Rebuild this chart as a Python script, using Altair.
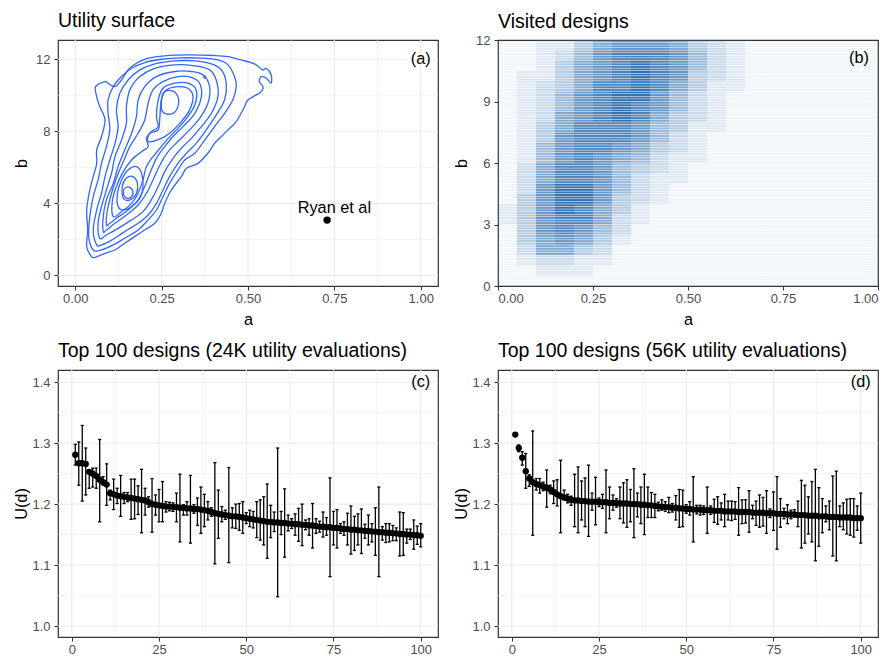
import altair as alt
import pandas as pd

FONT = "Liberation Sans"
BLUE = "#3366FF"

# ---------------- Panel (a): contour lines of the utility surface ----------------
contour_1 = [(0.047,1.04),(0.033,1.59),(0.036,2.52),(0.033,3.63),(0.042,4.74),(0.052,5.48),(0.062,6.22),(0.062,6.96),
             (0.076,7.71),(0.086,8.63),(0.071,9.37),(0.062,9.93),(0.059,10.48),(0.086,10.76),(0.095,10.67),(0.115,10.48),
             (0.134,10.85),(0.153,11.41),(0.177,11.78),(0.211,12.06),(0.259,12.19),(0.326,12.24),(0.403,12.21),(0.442,12.15),
             (0.480,11.96),(0.519,11.74),(0.543,11.41),(0.553,11.50),(0.567,11.13),(0.567,10.67),(0.553,10.95),(0.538,11.04),
             (0.533,10.76),(0.543,10.48),(0.538,10.20),(0.500,9.74),(0.490,9.37),(0.466,8.54),(0.442,8.08),(0.418,7.61),
             (0.403,7.33),(0.384,6.78),(0.355,6.22),(0.322,5.95),(0.307,5.48),(0.278,4.74),(0.259,4.00),(0.249,3.45),
             (0.230,2.89),(0.201,2.52),(0.172,2.15),(0.143,1.78),(0.115,1.41),(0.086,1.22),(0.057,1.00)]
contour_2 = [(0.052,1.41),(0.039,2.15),(0.042,3.26),(0.052,4.37),(0.066,5.30),(0.076,6.22),(0.090,7.15),(0.100,8.08),
             (0.095,9.00),(0.095,9.74),(0.110,10.48),(0.134,11.04),(0.163,11.50),(0.201,11.82),(0.249,12.00),(0.307,12.08),
             (0.365,12.06),(0.413,11.96),(0.442,11.69),(0.461,11.04),(0.466,10.48),(0.456,9.74),(0.432,9.00),(0.403,8.26),
             (0.375,7.52),(0.346,6.78),(0.317,6.41),(0.297,5.85),(0.273,5.11),(0.254,4.37),(0.235,3.63),(0.211,3.08),
             (0.182,2.52),(0.143,2.06),(0.110,1.69),(0.076,1.41)]
contour_3 = [(0.062,1.69),(0.052,2.52),(0.062,3.63),(0.076,4.56),(0.086,5.48),(0.100,6.41),(0.115,7.33),(0.124,8.26),
             (0.119,9.19),(0.129,10.11),(0.153,10.85),(0.187,11.41),(0.230,11.74),(0.288,11.91),(0.346,11.91),(0.394,11.74),
             (0.423,11.41),(0.437,10.67),(0.432,9.74),(0.408,8.91),(0.379,8.08),(0.350,7.33),(0.322,6.78),(0.297,6.22),
             (0.273,5.48),(0.254,4.74),(0.235,4.00),(0.211,3.35),(0.182,2.89),(0.143,2.43),(0.105,1.96),(0.076,1.69)]
contour_4 = [(0.071,2.06),(0.066,2.89),(0.076,3.82),(0.090,4.74),(0.105,5.67),(0.115,6.59),(0.134,7.52),(0.148,8.45),
             (0.148,9.37),(0.158,10.30),(0.187,11.04),(0.230,11.50),(0.288,11.69),(0.346,11.63),(0.389,11.41),(0.408,10.85),
             (0.413,9.93),(0.394,9.00),(0.365,8.26),(0.336,7.61),(0.307,7.06),(0.283,6.50),(0.259,5.76),(0.240,4.93),
             (0.220,4.19),(0.196,3.54),(0.163,3.08),(0.124,2.61),(0.090,2.24)]
contour_5 = [(0.081,2.43),(0.081,3.26),(0.090,4.19),(0.110,5.11),(0.124,6.04),(0.143,6.96),(0.163,7.89),(0.177,8.82),
             (0.182,9.74),(0.201,10.48),(0.235,11.04),(0.288,11.32),(0.336,11.32),(0.370,11.13),(0.389,10.48),(0.384,9.56),
             (0.360,8.72),(0.326,7.98),(0.297,7.43),(0.269,6.87),(0.245,6.13),(0.225,5.30),(0.206,4.56),(0.182,3.91),
             (0.148,3.35),(0.115,2.89),(0.090,2.52)]
contour_6 = [(0.090,2.80),(0.093,3.63),(0.105,4.56),(0.119,5.39),(0.139,6.32),(0.158,7.15),(0.182,7.89),(0.201,8.63),
             (0.211,9.56),(0.225,10.30),(0.254,10.76),(0.297,11.04),(0.336,11.00),(0.360,10.67),(0.365,9.93),(0.346,9.00),
             (0.312,8.26),(0.283,7.71),(0.259,7.15),(0.235,6.50),(0.216,5.67),(0.201,4.93),(0.182,4.19),(0.153,3.63),
             (0.119,3.17),(0.100,2.89)]
contour_7 = [(0.110,3.26),(0.107,4.09),(0.119,4.93),(0.139,5.76),(0.163,6.41),(0.192,6.87),(0.211,7.15),(0.206,7.61),
             (0.220,7.98),(0.240,8.26),(0.235,8.82),(0.240,9.74),(0.254,10.39),(0.288,10.67),(0.326,10.67),(0.350,10.30),
             (0.346,9.46),(0.322,8.72),(0.293,8.08),(0.269,7.61),(0.249,7.15),(0.225,6.59),(0.206,6.04),(0.196,5.30),
             (0.182,4.56),(0.163,4.00),(0.134,3.54)]
contour_8_low = [(0.124,3.82),(0.122,4.56),(0.134,5.30),(0.153,5.85),(0.177,6.04),(0.192,5.67),(0.196,4.93),
                 (0.187,4.28),(0.163,3.82),(0.139,3.63)]
contour_8_up = [(0.211,7.43),(0.216,7.89),(0.240,8.08),(0.245,8.82),(0.249,9.74),(0.264,10.30),(0.297,10.48),
                (0.326,10.39),(0.341,9.93),(0.331,9.19),(0.307,8.54),(0.278,7.98),(0.249,7.61)]
contour_9_low = [(0.139,4.28),(0.136,4.93),(0.148,5.39),(0.167,5.48),(0.180,5.11),(0.177,4.56),(0.158,4.19)]
contour_9_up = [(0.249,9.28),(0.254,10.11),(0.278,10.26),(0.297,9.93),(0.297,9.37),(0.283,9.00),(0.259,9.00)]
contour_10_low = [(0.139,4.56),(0.143,4.83),(0.158,4.89),(0.167,4.65),(0.163,4.37),(0.148,4.28)]
contour_dot = [(0.372,11.00),(0.375,11.06),(0.378,11.00),(0.375,10.95)]

contours = [contour_1, contour_2, contour_3, contour_4, contour_5, contour_6, contour_7,
            contour_8_low, contour_8_up, contour_9_low, contour_9_up, contour_10_low, contour_dot]

ryan_a, ryan_b = [0.729], [3.07]
ryan_label = ["Ryan et al"]
ryan_label_a, ryan_label_b = [0.75], [3.44]

# ---------------- Panel (b): density of visited designs ----------------
# rows from b = 12 (top) down to b = 0, 0.5 wide; columns a = 0 .. 1 in steps of 0.05; level 0-9
visited_rows = [
    "11224677764321111111",
    "11235788875321111111",
    "11246789875321111111",
    "12246789874321111111",
    "12346889864221111111",
    "12357899753211111111",
    "12357898753211111111",
    "12367898643211111111",
    "12468887542211111111",
    "12478887532111111111",
    "12578876432111111111",
    "12578765322111111111",
    "13688754321111111111",
    "13688753221111111111",
    "13799753211111111111",
    "14799743211111111111",
    "24798642111111111111",
    "24788632111111111111",
    "14787531111111111111",
    "14676421111111111111",
    "13664311111111111111",
    "12332211111111111111",
    "11222111111111111111",
    "11111111111111111111",
]

# ---------------- Panels (c) and (d): top 100 designs ----------------
design_idx = list(range(1, 101))

c_mean = [1.281,1.267,1.267,1.266,1.253,1.250,1.246,1.240,1.236,1.232,
          1.218,1.216,1.214,1.213,1.212,1.211,1.210,1.209,1.208,1.207,
          1.206,1.203,1.200,1.199,1.198,1.197,1.196,1.196,1.195,1.195,
          1.194,1.194,1.193,1.193,1.192,1.192,1.191,1.190,1.189,1.187,
          1.185,1.184,1.183,1.182,1.181,1.180,1.180,1.179,1.178,1.177,
          1.176,1.175,1.174,1.173,1.172,1.171,1.171,1.170,1.170,1.169,
          1.169,1.168,1.168,1.167,1.167,1.166,1.166,1.165,1.165,1.164,
          1.163,1.163,1.162,1.162,1.161,1.161,1.160,1.159,1.159,1.158,
          1.158,1.157,1.157,1.156,1.156,1.155,1.155,1.154,1.154,1.153,
          1.153,1.152,1.152,1.151,1.151,1.150,1.150,1.149,1.149,1.148]
c_hi = [1.298,1.302,1.329,1.292,1.256,1.259,1.259,1.306,1.245,1.266,
        1.223,1.241,1.226,1.247,1.219,1.219,1.241,1.241,1.230,1.257,
        1.226,1.212,1.242,1.215,1.224,1.237,1.204,1.203,1.202,1.218,
        1.249,1.199,1.204,1.247,1.199,1.210,1.228,1.216,1.204,1.194,
        1.268,1.223,1.196,1.190,1.260,1.194,1.200,1.201,1.204,1.186,
        1.190,1.188,1.204,1.207,1.212,1.233,1.198,1.187,1.292,1.188,
        1.225,1.182,1.176,1.184,1.193,1.200,1.174,1.176,1.201,1.176,
        1.172,1.187,1.178,1.243,1.188,1.191,1.168,1.171,1.185,1.197,
        1.180,1.184,1.192,1.167,1.182,1.168,1.194,1.228,1.163,1.168,
        1.168,1.165,1.161,1.187,1.186,1.159,1.159,1.174,1.164,1.168]
c_lo = [1.264,1.231,1.205,1.215,1.226,1.228,1.226,1.171,1.231,1.198,
        1.207,1.191,1.201,1.180,1.201,1.204,1.175,1.176,1.183,1.153,
        1.182,1.195,1.154,1.182,1.171,1.171,1.187,1.189,1.188,1.171,
        1.138,1.182,1.182,1.136,1.185,1.165,1.152,1.163,1.174,1.180,
        1.102,1.144,1.171,1.175,1.104,1.161,1.160,1.157,1.152,1.168,
        1.163,1.161,1.145,1.141,1.133,1.111,1.145,1.155,1.048,1.150,
        1.113,1.156,1.160,1.149,1.139,1.132,1.158,1.149,1.128,1.152,
        1.154,1.146,1.149,1.081,1.133,1.128,1.152,1.149,1.133,1.118,
        1.124,1.133,1.119,1.144,1.133,1.138,1.116,1.081,1.141,1.137,
        1.138,1.140,1.140,1.115,1.116,1.136,1.142,1.126,1.134,1.130]

d_mean = [1.314,1.292,1.276,1.254,1.242,1.236,1.233,1.231,1.229,1.227,
          1.224,1.220,1.216,1.213,1.211,1.209,1.207,1.206,1.206,1.205,
          1.205,1.204,1.204,1.204,1.203,1.203,1.203,1.202,1.202,1.202,
          1.201,1.201,1.201,1.200,1.200,1.200,1.199,1.199,1.198,1.198,
          1.197,1.196,1.196,1.195,1.195,1.194,1.194,1.193,1.193,1.192,
          1.192,1.191,1.191,1.191,1.190,1.190,1.190,1.189,1.189,1.189,
          1.188,1.188,1.188,1.188,1.187,1.187,1.187,1.187,1.186,1.186,
          1.186,1.186,1.185,1.185,1.185,1.184,1.184,1.184,1.183,1.183,
          1.183,1.182,1.182,1.182,1.181,1.181,1.181,1.180,1.180,1.180,
          1.179,1.179,1.179,1.178,1.178,1.178,1.178,1.177,1.177,1.177]
d_hi = [1.317,1.297,1.286,1.283,1.248,1.320,1.242,1.242,1.236,1.256,
        1.231,1.238,1.240,1.272,1.223,1.216,1.213,1.249,1.261,1.238,
        1.243,1.264,1.218,1.244,1.210,1.216,1.256,1.228,1.215,1.209,
        1.228,1.235,1.240,1.224,1.258,1.218,1.228,1.249,1.228,1.219,
        1.216,1.203,1.207,1.204,1.211,1.201,1.214,1.224,1.223,1.199,
        1.204,1.245,1.198,1.198,1.197,1.228,1.197,1.208,1.212,1.202,
        1.216,1.205,1.205,1.204,1.227,1.207,1.207,1.222,1.198,1.205,
        1.215,1.211,1.222,1.192,1.220,1.245,1.209,1.193,1.199,1.190,
        1.191,1.205,1.239,1.231,1.212,1.237,1.257,1.227,1.209,1.197,
        1.205,1.246,1.254,1.197,1.202,1.208,1.209,1.209,1.197,1.218]
d_lo = [1.311,1.286,1.264,1.226,1.229,1.149,1.223,1.218,1.222,1.195,
        1.217,1.201,1.197,1.153,1.207,1.202,1.198,1.163,1.153,1.174,
        1.163,1.147,1.190,1.166,1.196,1.193,1.153,1.176,1.190,1.195,
        1.176,1.169,1.162,1.171,1.145,1.179,1.168,1.150,1.178,1.178,
        1.178,1.189,1.190,1.188,1.186,1.187,1.174,1.162,1.163,1.185,
        1.182,1.138,1.184,1.182,1.183,1.152,1.183,1.170,1.167,1.174,
        1.163,1.174,1.173,1.175,1.149,1.168,1.169,1.154,1.176,1.165,
        1.162,1.164,1.152,1.178,1.157,1.126,1.162,1.176,1.168,1.176,
        1.179,1.163,1.128,1.136,1.151,1.138,1.107,1.131,1.153,1.171,
        1.158,1.115,1.107,1.163,1.158,1.151,1.149,1.146,1.157,1.136]

# grid / tick positions
a_major = [0.0, 0.25, 0.5, 0.75, 1.0]
a_minor = [0.125, 0.375, 0.625, 0.875]
b_major_a = [0, 4, 8, 12]
b_minor_a = [2, 6, 10]
b_ticks_b = [0, 3, 6, 9, 12]
idx_major = [0, 25, 50, 75, 100]
idx_minor = [12.5, 37.5, 62.5, 87.5]
u_major = [1.0, 1.1, 1.2, 1.3, 1.4]
u_minor = [1.05, 1.15, 1.25, 1.35]

# ---------------- build tables ----------------
cont_rows = []
for cid, pts in enumerate(contours):
    for k, (a, b) in enumerate(pts):
        cont_rows.append({"cid": cid, "k": k, "a": a, "b": b})
cont_df = pd.DataFrame(cont_rows)

# each density cell is drawn as 4 thin horizontal streaks (the visited designs appear as dashes)
STREAKS = 4
heat_rows = []
for r, row in enumerate(visited_rows):
    top_b = 12 - 0.5 * r
    for c, ch in enumerate(row):
        a0 = 0.05 * c
        for s in range(STREAKS):
            s_top = top_b - s * 0.5 / STREAKS - 0.01
            heat_rows.append({"a0": a0, "a1": a0 + 0.05, "b0": s_top - 0.1, "b1": s_top, "level": int(ch)})
heat_df = pd.DataFrame(heat_rows)

c_df = pd.DataFrame({"idx": design_idx, "u": c_mean, "lo": c_lo, "hi": c_hi})
d_df = pd.DataFrame({"idx": design_idx, "u": d_mean, "lo": d_lo, "hi": d_hi})

GRID = "#ebebeb"


def axis_x(values, fmt, title_y=None):
    args = dict(values=values, format=fmt, domain=False, grid=False, tickSize=4, tickColor="#333333",
                tickWidth=1, labelColor="#4d4d4d", labelFontSize=13, labelFont=FONT, labelPadding=2,
                titleFont=FONT, titleFontSize=16.3, titleFontWeight="normal", titleColor="black")
    if title_y is not None:
        args.update(titleY=title_y, titleBaseline="alphabetic")
    return alt.Axis(**args)


def axis_y(values, fmt, height):
    return alt.Axis(values=values, format=fmt, domain=False, grid=False, tickSize=4, tickColor="#333333",
                    tickWidth=1, labelColor="#4d4d4d", labelFontSize=13, labelFont=FONT, labelPadding=4,
                    titleFont=FONT, titleFontSize=16.3, titleFontWeight="normal", titleColor="black",
                    titleX=-32, titleY=height / 2, titleBaseline="alphabetic", titleAngle=270)


def title(text, offset):
    return alt.TitleParams(text, anchor="start", frame="group", fontSize=19.5, font=FONT,
                           fontWeight="normal", color="black", offset=offset, baseline="alphabetic")


def grid_layers(xs_major, xs_minor, ys_major, ys_minor, xenc, yenc):
    layers = []
    for vals, w, ch in [(xs_minor, 0.6, "x"), (xs_major, 1.1, "x"), (ys_minor, 0.6, "y"), (ys_major, 1.1, "y")]:
        df = pd.DataFrame({"v": vals})
        if ch == "x":
            enc = {"x": alt.X("v:Q", **xenc)}
        else:
            enc = {"y": alt.Y("v:Q", **yenc)}
        layers.append(alt.Chart(df).mark_rule(color=GRID, strokeWidth=w).encode(**enc))
    return layers


# ---------------- panel (a) ----------------
WA, HA = 380, 246
xa_enc = dict(scale=alt.Scale(domain=[-0.05, 1.05], nice=False, zero=False),
              axis=axis_x(a_major, ".2f", title_y=38), title="a")
ya_enc = dict(scale=alt.Scale(domain=[-0.59, 13.07], nice=False, zero=False),
              axis=axis_y(b_major_a, "d", HA), title="b")

a_lines = alt.Chart(cont_df).mark_line(color=BLUE, strokeWidth=1.3, interpolate="cardinal-closed").encode(
    x=alt.X("a:Q", **xa_enc), y=alt.Y("b:Q", **ya_enc), detail="cid:N", order="k:Q")
ryan_pt = alt.Chart(pd.DataFrame({"a": ryan_a, "b": ryan_b})).mark_circle(size=55, color="black", opacity=1).encode(
    x=alt.X("a:Q", **xa_enc), y=alt.Y("b:Q", **ya_enc))
ryan_txt = alt.Chart(pd.DataFrame({"a": ryan_label_a, "b": ryan_label_b, "t": ryan_label})).mark_text(
    font=FONT, fontSize=16.3, color="black", baseline="alphabetic", align="center").encode(
    x=alt.X("a:Q", **xa_enc), y=alt.Y("b:Q", **ya_enc), text="t:N")
lab_a = alt.Chart(pd.DataFrame({"a": [1.0], "b": [12.0], "t": ["(a)"]})).mark_text(
    font=FONT, fontSize=16.3, color="black", baseline="middle", align="center").encode(
    x=alt.X("a:Q", **xa_enc), y=alt.Y("b:Q", **ya_enc), text="t:N")

panel_a = alt.layer(*grid_layers(a_major, a_minor, b_major_a, b_minor_a, xa_enc, ya_enc),
                    a_lines, ryan_pt, ryan_txt, lab_a).properties(
    width=WA, height=HA, title=title("Utility surface", -7))

# ---------------- panel (b) ----------------
xb_enc = dict(scale=alt.Scale(domain=[0, 1], nice=False, zero=False),
              axis=axis_x(a_major, ".2f", title_y=38), title="a")
yb_enc = dict(scale=alt.Scale(domain=[0, 12], nice=False, zero=False),
              axis=axis_y(b_ticks_b, "d", HA), title="b")
heat = alt.Chart(heat_df).mark_rect(color="#3572b0").encode(
    x=alt.X("a0:Q", **xb_enc), x2="a1:Q",
    y=alt.Y("b0:Q", **yb_enc), y2="b1:Q",
    opacity=alt.Opacity("level:Q", scale=alt.Scale(type="pow", exponent=1.2, domain=[0, 9], range=[0, 1.0]),
                        legend=None),
)
lab_b = alt.Chart(pd.DataFrame({"a": [0.95], "b": [11.1], "t": ["(b)"]})).mark_text(
    font=FONT, fontSize=16.3, color="black", baseline="middle", align="center").encode(
    x=alt.X("a:Q", **xb_enc), y=alt.Y("b:Q", **yb_enc), text="t:N")
panel_b = alt.layer(heat, lab_b).properties(width=WA, height=HA, title=title("Visited designs", -13.5))

# ---------------- panels (c), (d) ----------------
HB = 267
xc_enc = dict(scale=alt.Scale(domain=[-3.95, 104.95], nice=False, zero=False),
              axis=axis_x(idx_major, "d"), title=None)
yc_enc = dict(scale=alt.Scale(domain=[0.982, 1.42], nice=False, zero=False),
              axis=axis_y(u_major, ".1f", HB), title="U(d)")


def design_panel(df, label, ttl, width):
    base = alt.Chart(df)
    bars = base.mark_rule(color="black", strokeWidth=1.3).encode(
        x=alt.X("idx:Q", **xc_enc), y=alt.Y("lo:Q", **yc_enc), y2="hi:Q")
    caps = []
    for end in ["hi", "lo"]:
        caps.append(base.transform_calculate(xl="datum.idx - 0.45", xr="datum.idx + 0.45").mark_rule(
            color="black", strokeWidth=1.3).encode(
            x=alt.X("xl:Q", **xc_enc), x2="xr:Q", y=alt.Y(end + ":Q", **yc_enc)))
    pts = base.mark_circle(size=40, color="black", opacity=1).encode(
        x=alt.X("idx:Q", **xc_enc), y=alt.Y("u:Q", **yc_enc))
    lab = alt.Chart(pd.DataFrame({"x": [100], "y": [1.4], "t": [label]})).mark_text(
        font=FONT, fontSize=16.3, color="black", baseline="middle", align="center").encode(
        x=alt.X("x:Q", **xc_enc), y=alt.Y("y:Q", **yc_enc), text="t:N")
    return alt.layer(*grid_layers(idx_major, idx_minor, u_major, u_minor, xc_enc, yc_enc),
                     bars, *caps, pts, lab).properties(
        width=width, height=HB, title=title(ttl, -7))


panel_c = design_panel(c_df, "(c)", "Top 100 designs (24K utility evaluations)", 380)
panel_d = design_panel(d_df, "(d)", "Top 100 designs (56K utility evaluations)", 380)

chart = alt.concat(panel_a, panel_b, panel_c, panel_d, columns=2,
                   spacing={"row": 84, "column": 60}, bounds="flush").properties(
    padding={"left": 12, "top": 10, "right": 0, "bottom": 0},
    autosize=alt.AutoSizeParams(type="pad"),
).resolve_scale(x="independent", y="independent").configure(background="white").configure_view(
    stroke="#333333", strokeWidth=1.2)

chart.save("out.html", embed_options={"renderer": "svg", "actions": False})
